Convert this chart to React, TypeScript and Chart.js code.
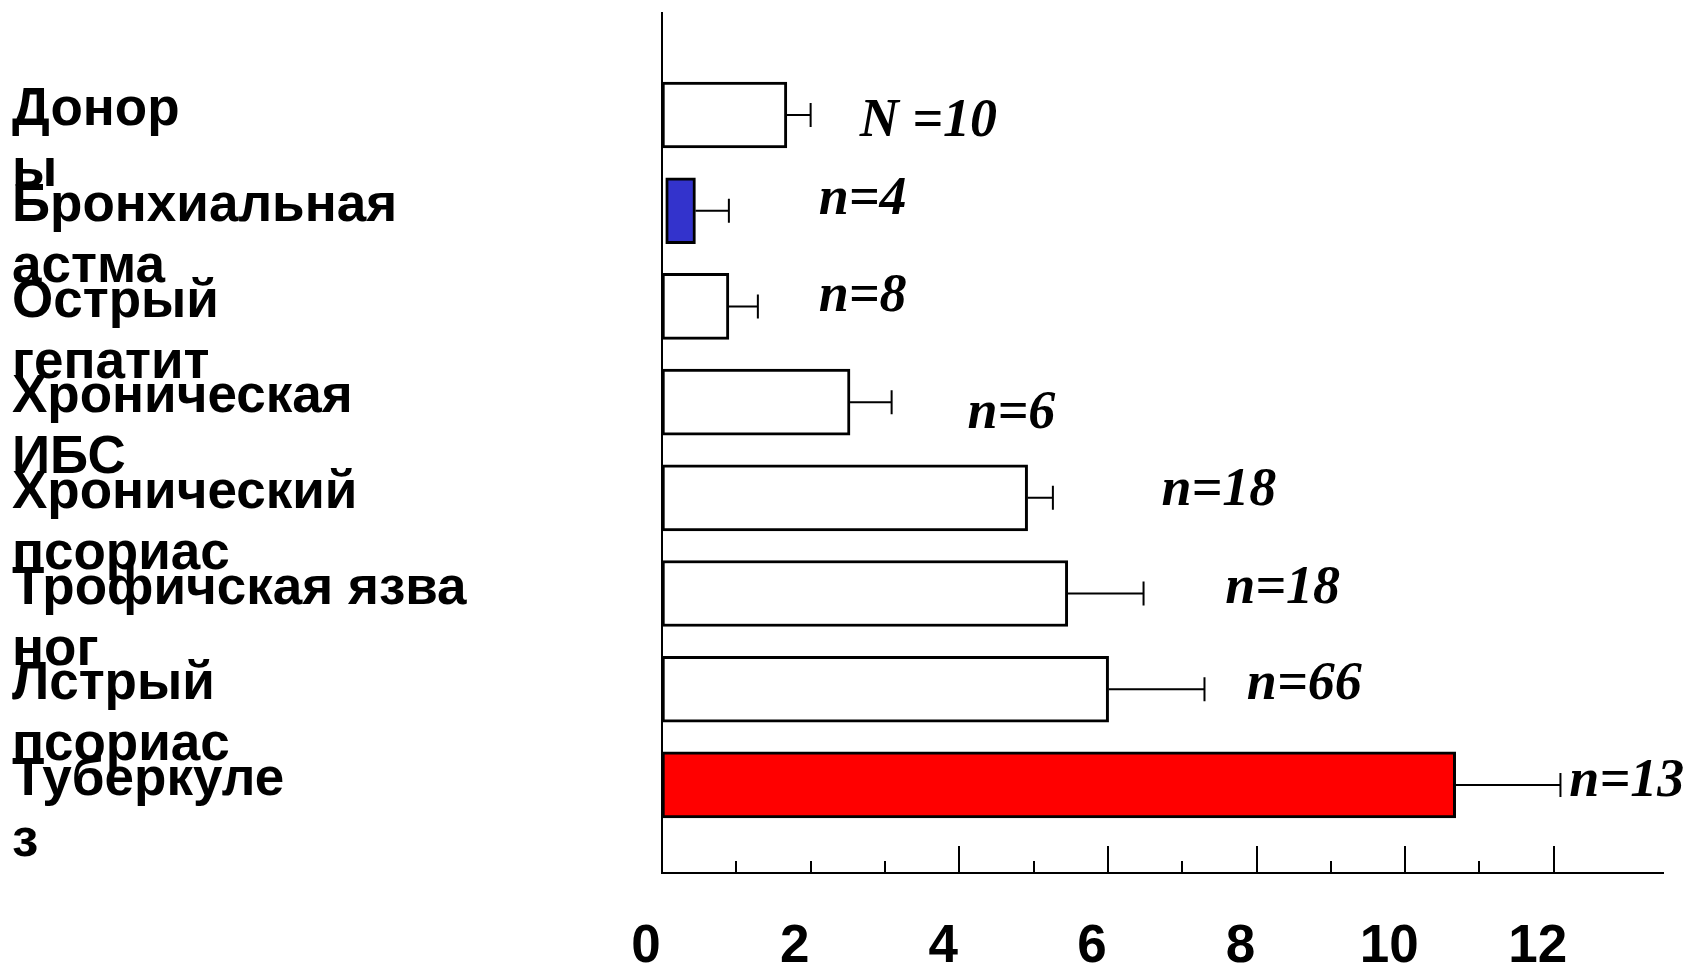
import React, { useEffect, useRef } from "react";
import { Chart, registerables } from "chart.js";

Chart.register(...registerables);

// Category labels (two lines each, as in the original slide)
const categories: string[][] = [
  ["Донор", "ы"],
  ["Бронхиальная", "астма"],
  ["Острый", "гепатит"],
  ["Хроническая", "ИБС"],
  ["Хронический", "псориас"],
  ["Трофичская язва", "ног"],
  ["Лстрый", "псориас"],
  ["Туберкуле", "з"],
];

// Bar start / end values (x units) and upper error
const barStart = [0, 0.05, 0, 0, 0, 0, 0, 0];
const meanValues = [1.68, 0.45, 0.9, 2.53, 4.92, 5.46, 6.01, 10.68];
const errorValues = [0.32, 0.45, 0.39, 0.56, 0.34, 1.02, 1.29, 1.41];

// Group size annotations and where they sit (value axis / category axis units)
const nLabels = ["N =10", "n=4", "n=8", "n=6", "n=18", "n=18", "n=66", "n=13"];
const nLabelAt = [2.66, 2.11, 2.11, 4.11, 6.72, 7.58, 7.87, 12.21];
const nLabelRow = [0.07, 0.89, 1.9, 3.12, 3.93, 4.95, 5.96, 6.97];

// Axis ticks
const xTickValues = [0, 1, 2, 3, 4, 5, 6, 7, 8, 9, 10, 11, 12];
const xMajorTicks = [4, 6, 8, 10, 12];
const xLabeledTicks = [0, 2, 4, 6, 8, 10, 12];

const barColors = [
  "#ffffff",
  "#3333cc",
  "#ffffff",
  "#ffffff",
  "#ffffff",
  "#ffffff",
  "#ffffff",
  "#ff0000",
];

const overlayPlugin = {
  id: "overlay",
  afterDatasetsDraw(chart: any) {
    const { ctx } = chart;
    const x = chart.scales.x;
    const y = chart.scales.y;
    ctx.save();
    // error bars
    ctx.strokeStyle = "#000";
    ctx.lineWidth = 2;
    meanValues.forEach((m, i) => {
      const py = y.getPixelForValue(i);
      const x0 = x.getPixelForValue(m);
      const x1 = x.getPixelForValue(m + errorValues[i]);
      ctx.beginPath();
      ctx.moveTo(x0, py);
      ctx.lineTo(x1, py);
      ctx.moveTo(x1, py - 12);
      ctx.lineTo(x1, py + 12);
      ctx.stroke();
    });
    // n labels
    ctx.fillStyle = "#000";
    ctx.font = 'italic bold 54px "Liberation Serif"';
    ctx.textAlign = "left";
    ctx.textBaseline = "middle";
    nLabels.forEach((t, i) => {
      ctx.fillText(t, x.getPixelForValue(nLabelAt[i]), y.getPixelForValue(nLabelRow[i]));
    });
    // inward tick marks on the x axis
    const base = x.top;
    ctx.lineWidth = 2;
    xTickValues.forEach((v) => {
      if (v === 0) return;
      const px = Math.round(x.getPixelForValue(v));
      const len = xMajorTicks.includes(v) ? 27 : 12;
      ctx.beginPath();
      ctx.moveTo(px, base);
      ctx.lineTo(px, base - len);
      ctx.stroke();
    });
    ctx.restore();
  },
};

const zeroPadding = (s: any) => {
  s.paddingTop = 0;
  s.paddingBottom = 0;
  s.paddingLeft = 0;
  s.paddingRight = 0;
};

export default function App() {
  const canvasRef = useRef<HTMLCanvasElement | null>(null);

  useEffect(() => {
    const canvas = canvasRef.current;
    if (!canvas) return;
    const chart = new Chart(canvas, {
      type: "bar",
      data: {
        datasets: [
          {
            data: meanValues.map((m, i) => ({ y: i, x: [barStart[i], m] })) as any,
            backgroundColor: barColors,
            borderColor: "#000",
            borderWidth: 3,
            borderSkipped: false,
            barThickness: 66,
          },
        ],
      },
      options: {
        indexAxis: "y",
        animation: false,
        responsive: true,
        maintainAspectRatio: false,
        layout: { padding: { left: 12, top: 13, right: 21, bottom: 0 } },
        plugins: {
          legend: { display: false },
          tooltip: { enabled: false },
        },
        scales: {
          x: {
            type: "linear",
            position: "bottom",
            offset: false,
            min: 0,
            max: 13.47,
            afterBuildTicks: (s: any) => {
              s.ticks = xTickValues.map((v) => ({ value: v }));
            },
            afterFit: (s: any) => {
              s.height = 91;
              zeroPadding(s);
            },
            grid: { display: false, drawTicks: false },
            border: { display: true, color: "#000", width: 2 },
            ticks: {
              autoSkip: false,
              maxRotation: 0,
              padding: 43,
              labelOffset: -16,
              color: "#000",
              font: { family: "Liberation Sans", weight: "bold", size: 53 },
              callback: (v: any) => (xLabeledTicks.includes(Number(v)) ? String(v) : ""),
            },
          },
          y: {
            type: "linear",
            position: "left",
            offset: false,
            reverse: true,
            min: -1.066,
            max: 7.92,
            afterBuildTicks: (s: any) => {
              s.ticks = categories.map((_, i) => ({ value: i }));
            },
            afterFit: (s: any) => {
              s.width = 650;
              zeroPadding(s);
            },
            grid: { display: false, drawTicks: false, offset: false },
            border: { display: true, color: "#000", width: 2 },
            ticks: {
              autoSkip: false,
              crossAlign: "far",
              labelOffset: 26,
              color: "#000",
              font: { family: "Liberation Sans", weight: "bold", size: 53, lineHeight: "61px" },
              callback: (v: any) => categories[Number(v)] ?? "",
            },
          },
        },
      } as any,
      plugins: [overlayPlugin],
    });
    return () => chart.destroy();
  }, []);

  return (
    <div
      style={{
        position: "fixed",
        left: 0,
        top: 0,
        width: "1684px",
        height: "964px",
        background: "#fff",
      }}
    >
      <canvas ref={canvasRef} />
    </div>
  );
}
